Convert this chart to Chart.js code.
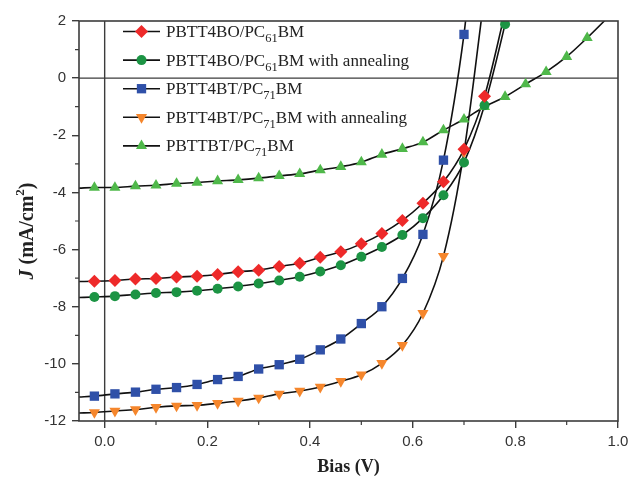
<!DOCTYPE html>
<html>
<head>
<meta charset="utf-8">
<script src="https://cdn.jsdelivr.net/npm/chart.js@4/dist/chart.umd.min.js"></script>
<style>
  html, body { margin: 0; padding: 0; background: #fff; }
</style>
</head>
<body>
<canvas id="myChart" width="628" height="479"></canvas>
<script>
var ctx = document.getElementById("myChart").getContext("2d");

// bias values of the markers (V)
const biasV = [-0.02, 0.02, 0.06, 0.10, 0.14, 0.18, 0.22, 0.26, 0.30, 0.34, 0.38, 0.42,
  0.46, 0.50, 0.54, 0.58, 0.62, 0.66, 0.70, 0.74, 0.78, 0.82, 0.86, 0.90, 0.94];

// current density (mA/cm2)
const jBO = [-7.11, -7.08, -7.03, -7.01, -6.96, -6.93, -6.87, -6.78, -6.72, -6.59, -6.48, -6.27,
  -6.08, -5.80, -5.44, -4.98, -4.38, -3.63, -2.49, -0.63];
const jBOAnneal = [-7.66, -7.63, -7.57, -7.52, -7.49, -7.44, -7.37, -7.29, -7.19, -7.08, -6.95, -6.77,
  -6.55, -6.25, -5.91, -5.49, -4.90, -4.10, -2.95, -0.95, 1.89];
const jBT = [-11.13, -11.05, -10.99, -10.89, -10.83, -10.72, -10.55, -10.44, -10.18, -10.03, -9.84, -9.51,
  -9.13, -8.59, -8.00, -7.01, -5.47, -2.87, 1.53];
const jBTAnneal = [-11.70, -11.65, -11.60, -11.52, -11.47, -11.45, -11.38, -11.30, -11.19, -11.05, -10.95, -10.81,
  -10.61, -10.38, -9.98, -9.35, -8.23, -6.23, -2.58];
const jBTBT = [-3.83, -3.83, -3.78, -3.75, -3.69, -3.65, -3.60, -3.56, -3.50, -3.42, -3.35, -3.22,
  -3.10, -2.94, -2.67, -2.47, -2.24, -1.82, -1.44, -1.00, -0.65, -0.21, 0.22, 0.75, 1.41];

// where the black fitted curves start and end (beyond the markers)
const curveStartV = -0.05;
const curveStartJ = [-7.12, -7.68, -11.16, -11.72, -3.85];
const curveEndV = [0.78, 0.785, 0.706, 0.737, 0.99];
const curveEndJ = [2.3, 2.3, 2.5, 2.5, 2.3];

const legendLabels = [
  ["PBTT4BO/PC", "61", "BM"],
  ["PBTT4BO/PC", "61", "BM with annealing"],
  ["PBTT4BT/PC", "71", "BM"],
  ["PBTT4BT/PC", "71", "BM with annealing"],
  ["PBTTBT/PC", "71", "BM"],
];

const xTicks = [0, 0.2, 0.4, 0.6, 0.8, 1.0];
const xMinorTicks = [0.1, 0.3, 0.5, 0.7, 0.9];
const yTicks = [2, 0, -2, -4, -6, -8, -10, -12];
const yMinorTicks = [1, -1, -3, -5, -7, -9, -11];

const seriesJ = [jBO, jBOAnneal, jBT, jBTAnneal, jBTBT];
const styles = [
  { color: "#ee2a2a", pointStyle: "rectRot", radius: 6.5, rotation: 0 },
  { color: "#1c9444", pointStyle: "circle", radius: 5, rotation: 0 },
  { color: "#2f50a8", pointStyle: "rect", radius: 6.6, rotation: 0 },
  { color: "#f5862c", pointStyle: "triangle", radius: 6.4, rotation: 180 },
  { color: "#4fb84a", pointStyle: "triangle", radius: 6.4, rotation: 0 },
];

const FRAME = "#3c3c3c";
const SERIF = "'Liberation Serif'";

function markerPoints(js) {
  return js.map((j, i) => ({ x: biasV[i], y: j }));
}

function curvePoints(js, k) {
  return [{ x: curveStartV, y: curveStartJ[k] }]
    .concat(markerPoints(js))
    .concat([{ x: curveEndV[k], y: curveEndJ[k] }]);
}

const datasets = [];
seriesJ.forEach((js, k) => {
  const st = styles[k];
  datasets.push({
    label: legendLabels[k].join(""),
    data: markerPoints(js),
    showLine: false,
    pointStyle: st.pointStyle,
    pointRadius: st.radius,
    pointRotation: st.rotation,
    pointBackgroundColor: st.color,
    pointBorderColor: st.color,
    pointBorderWidth: 0,
    order: 0,
  });
  datasets.push({
    label: "curve " + k,
    data: curvePoints(js, k),
    borderColor: "#111",
    borderWidth: 1.6,
    pointRadius: 0,
    cubicInterpolationMode: "monotone",
    fill: false,
    order: 1,
  });
});

const decorations = {
  id: "decorations",
  beforeDatasetsDraw(chart) {
    const { ctx, chartArea: a, scales } = chart;
    const x0 = scales.x.getPixelForValue(0);
    const y0 = scales.y.getPixelForValue(0);
    ctx.save();
    ctx.strokeStyle = FRAME;
    ctx.lineWidth = 1.4;
    ctx.beginPath();
    ctx.moveTo(x0, a.top);
    ctx.lineTo(x0, a.bottom);
    ctx.moveTo(a.left, y0);
    ctx.lineTo(a.right, y0);
    ctx.stroke();
    ctx.restore();
  },
  afterDatasetsDraw(chart) {
    const { ctx, chartArea: a, scales } = chart;
    ctx.save();
    // frame
    ctx.strokeStyle = FRAME;
    ctx.lineWidth = 1.6;
    ctx.strokeRect(a.left, a.top, a.right - a.left, a.bottom - a.top);
    // minor ticks
    ctx.lineWidth = 1.2;
    ctx.beginPath();
    xMinorTicks.forEach((v) => {
      const px = scales.x.getPixelForValue(v);
      ctx.moveTo(px, a.bottom);
      ctx.lineTo(px, a.bottom + 4);
    });
    yMinorTicks.forEach((v) => {
      const py = scales.y.getPixelForValue(v);
      ctx.moveTo(a.left, py);
      ctx.lineTo(a.left - 4, py);
    });
    ctx.stroke();

    // legend
    legendLabels.forEach((lab, i) => {
      const y = 31.5 + i * 28.6;
      ctx.strokeStyle = "#111";
      ctx.lineWidth = 1.6;
      ctx.beginPath();
      ctx.moveTo(123, y);
      ctx.lineTo(160, y);
      ctx.stroke();
      const st = styles[i];
      ctx.fillStyle = st.color;
      ctx.strokeStyle = st.color;
      Chart.helpers.drawPoint(ctx, {
        pointStyle: st.pointStyle, radius: st.radius, rotation: st.rotation, borderWidth: 0,
      }, 141.5, y);
      ctx.fillStyle = "#222";
      ctx.textBaseline = "alphabetic";
      ctx.textAlign = "left";
      let tx = 166;
      ctx.font = "17px " + SERIF;
      ctx.fillText(lab[0], tx, y + 5.5);
      tx += ctx.measureText(lab[0]).width;
      ctx.font = "12.5px " + SERIF;
      ctx.fillText(lab[1], tx, y + 10.5);
      tx += ctx.measureText(lab[1]).width;
      ctx.font = "17px " + SERIF;
      ctx.fillText(lab[2], tx, y + 5.5);
    });

    // axis titles
    ctx.fillStyle = "#222";
    ctx.font = "bold 18px " + SERIF;
    ctx.textAlign = "center";
    ctx.fillText("Bias (V)", (a.left + a.right) / 2, 472);

    ctx.translate(33, 231);
    ctx.rotate(-Math.PI / 2);
    const parts = [
      ["italic bold 20px " + SERIF, "J", 0],
      ["bold 20px " + SERIF, " (mA/cm", 0],
      ["bold 13px " + SERIF, "2", -9],
      ["bold 20px " + SERIF, ")", 0],
    ];
    let total = 0;
    parts.forEach((p) => { ctx.font = p[0]; total += ctx.measureText(p[1]).width; });
    let px = -total / 2;
    ctx.textAlign = "left";
    parts.forEach((p) => {
      ctx.font = p[0];
      ctx.fillText(p[1], px, p[2]);
      px += ctx.measureText(p[1]).width;
    });
    ctx.restore();
  },
};

new Chart(ctx, {
  type: "line",
  data: { datasets },
  options: {
    responsive: false,
    animation: false,
    layout: { padding: { left: 0, right: 10, top: 21, bottom: 0 } },
    plugins: { legend: { display: false }, tooltip: { enabled: false } },
    scales: {
      x: {
        type: "linear",
        min: -0.05,
        max: 1.0,
        afterBuildTicks(scale) {
          scale.ticks = xTicks.map((v) => ({ value: v }));
        },
        afterFit(scale) {
          scale.height = 58;
          scale.paddingLeft = 0;
          scale.paddingRight = 0;
        },
        ticks: {
          font: { family: "'Liberation Sans'", size: 15 },
          color: "#333",
          padding: 5,
          maxRotation: 0,
          callback: (v) => Number(v).toFixed(1),
        },
        grid: { drawOnChartArea: false, tickLength: 7, color: FRAME, lineWidth: 1.4 },
        border: { display: false },
      },
      y: {
        type: "linear",
        min: -12,
        max: 2,
        afterBuildTicks(scale) {
          scale.ticks = yTicks.map((v) => ({ value: v }));
        },
        afterFit(scale) {
          scale.width = 79;
          scale.paddingTop = 0;
          scale.paddingBottom = 0;
        },
        ticks: {
          font: { family: "'Liberation Sans'", size: 15 },
          color: "#333",
          padding: 6,
          callback: (v) => String(v),
        },
        grid: { drawOnChartArea: false, tickLength: 7, color: FRAME, lineWidth: 1.4 },
        border: { display: false },
      },
    },
  },
  plugins: [decorations],
});
</script>
</body>
</html>
